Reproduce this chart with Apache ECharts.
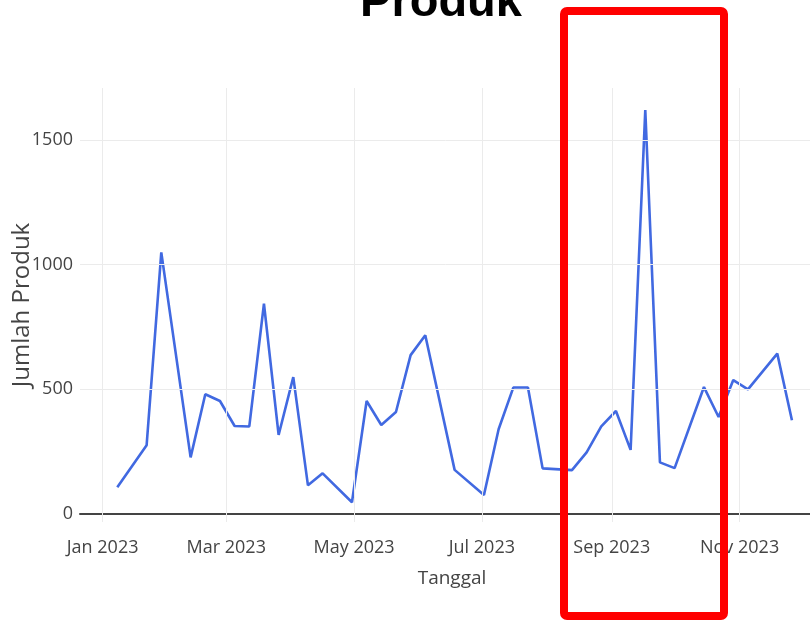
<!DOCTYPE html>
<html><head><meta charset="utf-8">
<script src="https://cdn.jsdelivr.net/npm/echarts@6/dist/echarts.min.js"></script>
<style>html,body{margin:0;padding:0;background:#fff}#c{width:810px;height:621px}</style>
</head><body><div id="c"></div>
<script>
const dates = ['2023-01-08','2023-01-22','2023-01-29','2023-02-12','2023-02-19','2023-02-26','2023-03-05','2023-03-12','2023-03-19','2023-03-26','2023-04-02','2023-04-09','2023-04-16','2023-04-30','2023-05-07','2023-05-14','2023-05-21','2023-05-28','2023-06-04','2023-06-18','2023-07-02','2023-07-09','2023-07-16','2023-07-23','2023-07-30','2023-08-13','2023-08-20','2023-08-27','2023-09-03','2023-09-10','2023-09-17','2023-09-24','2023-10-01','2023-10-15','2023-10-22','2023-10-29','2023-11-05','2023-11-19','2023-11-26'];
const values = [107,276,1049,227,480,453,353,351,843,317,549,115,163,47,453,357,409,637,717,177,76,340,507,507,183,176,247,351,413,257,1620,207,184,509,389,537,500,643,376];
const xTickDates = ['2023-01-01','2023-03-01','2023-05-01','2023-07-01','2023-09-01','2023-11-01'];
const yTicks = [0,500,1000,1500];
const monthNames = ['Jan','Feb','Mar','Apr','May','Jun','Jul','Aug','Sep','Oct','Nov','Dec'];

function ts(s){const p=s.split('-').map(Number);return new Date(p[0],p[1]-1,p[2]).getTime();}
const xTickTs = xTickDates.map(ts);
const DAY = 86400000;
const lblFont = "'Open Sans',sans-serif";

const chart = echarts.init(document.getElementById('c'), null, {renderer:'canvas'});
chart.setOption({
  animation:false,
  title:{text:'Produk', left:436, textAlign:'center', top:-25,
    textStyle:{fontSize:47, fontWeight:'bold', color:'#000', fontFamily:'Liberation Sans, Arial, sans-serif'}},
  grid:{left:80, right:-14, top:88, bottom:99, containLabel:false, outerBoundsMode:'none'},
  xAxis:{type:'value', min:ts('2023-01-01')-10.8*DAY, max:ts('2023-01-01')+344.3*DAY,
    axisLine:{onZero:true, lineStyle:{color:'#444', width:2}},
    axisTick:{show:false}, splitLine:{show:false},
    axisLabel:{customValues:xTickTs, margin:17, color:'#444', fontSize:18, fontFamily:lblFont, hideOverlap:false,
      formatter:function(v){const d=new Date(v);return monthNames[d.getMonth()]+' '+d.getFullYear();}},
    name:'Tanggal', nameLocation:'middle', nameGap:47, nameMoveOverlap:false,
    nameTextStyle:{color:'#444', fontSize:19, fontFamily:lblFont}},
  yAxis:{type:'value', min:-32, max:1708,
    axisLine:{show:false}, axisTick:{show:false}, splitLine:{show:false},
    axisLabel:{customValues:yTicks, margin:7, color:'#444', fontSize:18, fontFamily:lblFont,
      formatter:function(v){return String(v);}},
    name:'Jumlah Produk', nameLocation:'middle', nameGap:46, nameRotate:90, nameMoveOverlap:false,
    nameTextStyle:{color:'#444', fontSize:24, fontFamily:lblFont}},
  graphic:[{type:'rect', z:100, shape:{x:564, y:11, width:160, height:605, r:3},
    style:{fill:'none', stroke:'#ff0000', lineWidth:8}}],
  series:[
    {type:'line', data:[], z:1, silent:true,
     markLine:{silent:true, symbol:'none', label:{show:false},
       lineStyle:{color:'#ebebeb', width:1, type:'solid'},
       data: xTickTs.map(t=>({xAxis:t})).concat(yTicks.filter(v=>v!==0).map(v=>({yAxis:v})))}},
    {type:'line', z:3, data: dates.map((d,i)=>[ts(d), values[i]]), showSymbol:false,
     lineStyle:{color:'#4169e1', width:2.6}, itemStyle:{color:'#4169e1'}}
  ]
});
</script></body></html>
